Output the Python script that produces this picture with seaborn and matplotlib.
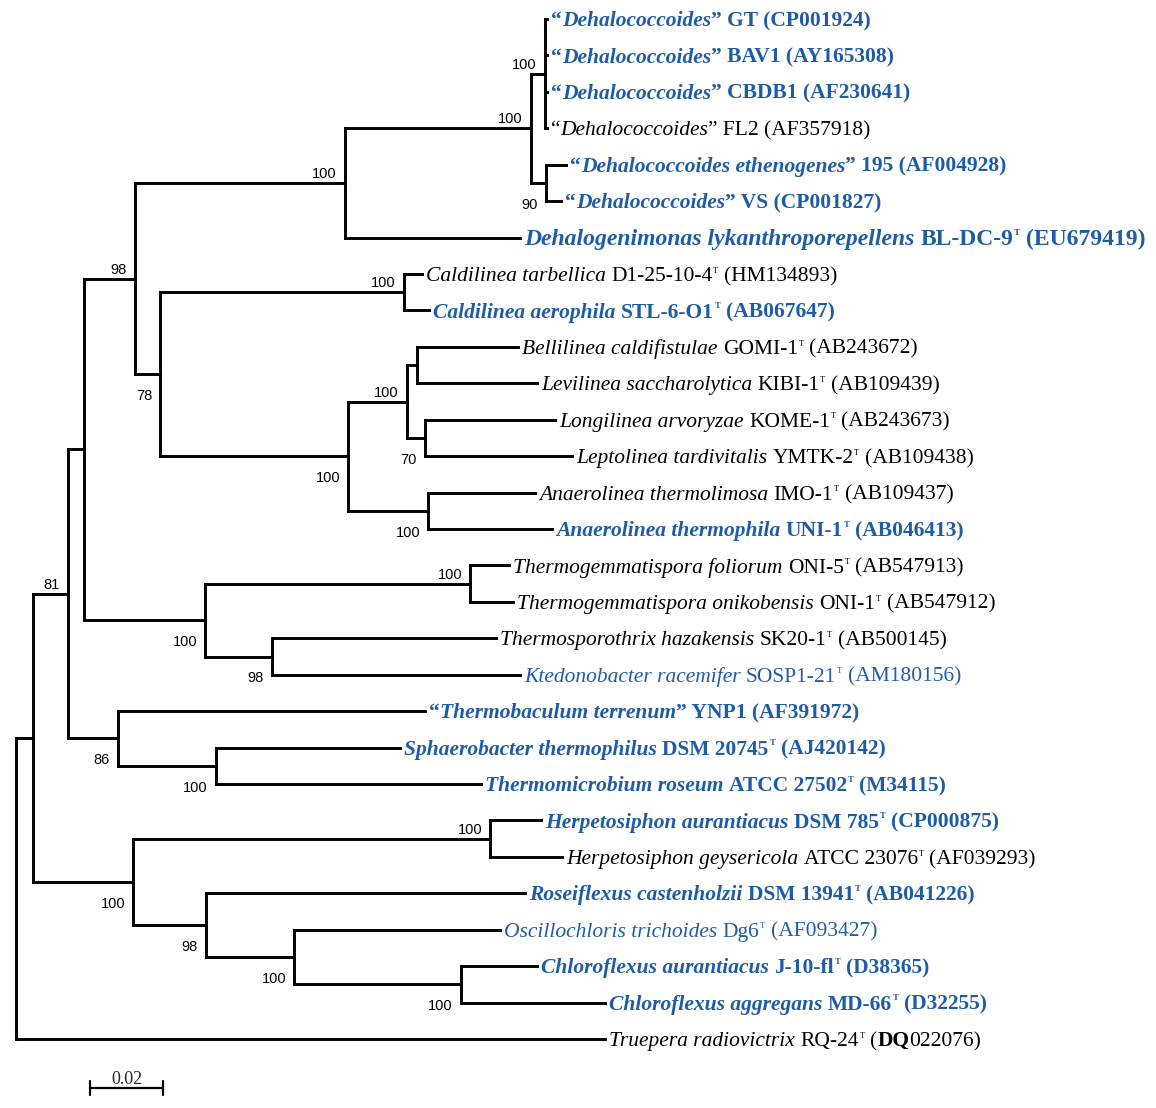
import re
import pandas as pd
import matplotlib
matplotlib.use("Agg")
import matplotlib.pyplot as plt
import seaborn as sns

# ---- leaves, top to bottom ----
leaf_labels = [
    "“*Dehalococcoides*” GT (CP001924)",
    "“*Dehalococcoides*” BAV1 (AY165308)",
    "“*Dehalococcoides*” CBDB1 (AF230641)",
    "“*Dehalococcoides*” FL2 (AF357918)",
    "“*Dehalococcoides ethenogenes*” 195 (AF004928)",
    "“*Dehalococcoides*” VS (CP001827)",
    "*Dehalogenimonas lykanthroporepellens* BL-DC-9^T (EU679419)",
    "*Caldilinea tarbellica* D1-25-10-4^T (HM134893)",
    "*Caldilinea aerophila* STL-6-O1^T (AB067647)",
    "*Bellilinea caldifistulae* GOMI-1^T (AB243672)",
    "*Levilinea saccharolytica* KIBI-1^T (AB109439)",
    "*Longilinea arvoryzae* KOME-1^T (AB243673)",
    "*Leptolinea tardivitalis* YMTK-2^T (AB109438)",
    "*Anaerolinea thermolimosa* IMO-1^T (AB109437)",
    "*Anaerolinea thermophila* UNI-1^T (AB046413)",
    "*Thermogemmatispora foliorum* ONI-5^T (AB547913)",
    "*Thermogemmatispora onikobensis* ONI-1^T (AB547912)",
    "*Thermosporothrix hazakensis* SK20-1^T (AB500145)",
    "*Ktedonobacter racemifer* SOSP1-21^T (AM180156)",
    "“*Thermobaculum terrenum*” YNP1 (AF391972)",
    "*Sphaerobacter thermophilus* DSM 20745^T (AJ420142)",
    "*Thermomicrobium roseum* ATCC 27502^T (M34115)",
    "*Herpetosiphon aurantiacus* DSM 785^T (CP000875)",
    "*Herpetosiphon geysericola* ATCC 23076^T (AF039293)",
    "*Roseiflexus castenholzii* DSM 13941^T (AB041226)",
    "*Oscillochloris trichoides* Dg6^T (AF093427)",
    "*Chloroflexus aurantiacus* J-10-fl^T (D38365)",
    "*Chloroflexus aggregans* MD-66^T (D32255)",
    "*Truepera radiovictrix* RQ-24^T (#DQ#022076)",
]
# b = highlighted (bold blue), l = plain blue, k = plain black
leaf_kind = ["b", "b", "b", "k", "b", "b", "b", "k", "b", "k", "k", "k", "k", "k", "b",
             "k", "k", "k", "l", "b", "b", "b", "b", "k", "b", "l", "b", "b", "k"]
leaf_parent = ["n7", "n7", "n7", "n7", "n8", "n8", "n5", "n10", "n10", "n13", "n13",
               "n14", "n14", "n15", "n15", "n17", "n17", "n18", "n18", "n19", "n20",
               "n20", "n22", "n22", "n23", "n24", "n25", "n25", "root"]
# distance from root (substitutions per site)
leaf_depth = [0.1455, 0.1455, 0.1455, 0.1455, 0.1507, 0.1493, 0.1381, 0.1112, 0.1132,
              0.1375, 0.1427, 0.1477, 0.1523, 0.1422, 0.1468, 0.1351, 0.1362, 0.1315,
              0.1381, 0.1121, 0.1052, 0.1274, 0.1438, 0.1496, 0.1395, 0.1326, 0.1427,
              0.1614, 0.1614]

# ---- internal nodes ----
node_names = ["root", "n1", "n2", "n3", "n4", "n5", "n6", "n7", "n8", "n9", "n10", "n11",
              "n12", "n13", "n14", "n15", "n16", "n17", "n18", "n19", "n20", "n21", "n22",
              "n23", "n24", "n25"]
node_parent = [None, "root", "n1", "n2", "n3", "n4", "n5", "n6", "n6", "n4", "n9", "n9",
               "n11", "n12", "n12", "n11", "n3", "n16", "n16", "n2", "n19", "n1", "n21",
               "n21", "n23", "n24"]
node_depth = [0.0, 0.0047, 0.0142, 0.0186, 0.0326, 0.0901, 0.1411, 0.1449, 0.1452, 0.0395,
              0.1063, 0.0910, 0.1071, 0.1099, 0.1121, 0.1129, 0.0518, 0.1244, 0.0701,
              0.0279, 0.0548, 0.0321, 0.1299, 0.0521, 0.0762, 0.1219]
node_support = [None, None, 81, None, 98, 100, 100, 100, 90, 78, 100, 100, 100, None, 70,
                100, 100, 100, 98, 86, 100, 100, 100, 98, 100, 100]
# where the bootstrap value sits: a = above branch, b = below
support_side = ["", "", "a", "", "a", "a", "a", "a", "b", "b", "a", "b", "a", "", "b", "b",
                "b", "a", "b", "b", "b", "b", "a", "b", "b", "b"]

scale_len = 0.02

# ---- layout ----
PX_PER_UNIT = 3650.0
ROW_PX = 36.43
W, H = 1156, 1108
BLUE = "#1f5ca6"
SERIF = "Liberation Serif"
SANS = "Liberation Sans"
FS = 15.5
FS_BIG = 17  # the Dehalogenimonas label is set a little larger

depth = dict(zip(node_names, node_depth))
parent = dict(zip(node_names, node_parent))
for i, (p, d) in enumerate(zip(leaf_parent, leaf_depth)):
    depth[f"L{i}"] = d
    parent[f"L{i}"] = p

children = {n: [] for n in node_names}
for n, p in parent.items():
    if p is not None:
        children[p].append(n)

ypos = {f"L{i}": float(i) for i in range(len(leaf_labels))}


def get_y(n):
    if n not in ypos:
        ys = [get_y(c) for c in children[n]]
        ypos[n] = (min(ys) + max(ys)) / 2
    return ypos[n]


for n in node_names:
    get_y(n)

# branch segments for seaborn
rows = []
seg = 0
for n, p in parent.items():
    if p is None:
        continue
    rows += [(seg, depth[p], ypos[n]), (seg, depth[n], ypos[n])]
    seg += 1
for n in node_names:
    ys = [ypos[c] for c in children[n]]
    rows += [(seg, depth[n], min(ys)), (seg, depth[n], max(ys))]
    seg += 1
seg_df = pd.DataFrame(rows, columns=["seg", "x", "y"])

sns.set_theme(style="white")
plt.rcParams["font.family"] = [SERIF, "DejaVu Serif"]

fig = plt.figure(figsize=(W / 100, H / 100), dpi=100)
ax = fig.add_axes([0, 0, 1, 1])
sns.lineplot(data=seg_df, x="x", y="y", units="seg", estimator=None, sort=False,
             color="black", lw=2.1, solid_capstyle="projecting", ax=ax, legend=False)

x0 = -16 / PX_PER_UNIT
ax.set_xlim(x0, x0 + W / PX_PER_UNIT)
ax.set_ylim((H - 19) / ROW_PX, -19 / ROW_PX)
ax.axis("off")


def draw_label(x, y, label, kind, fs):
    color = "black" if kind == "k" else BLUE
    weight = "bold" if kind == "b" else "normal"
    parts = [p for p in re.split(r"(\*[^*]+\*|#[^#]+#|\^T)", label) if p]
    base = prev = None
    space = False
    for p in parts:
        if p == "^T":
            prev = ax.annotate("T", xy=(1, 1), xycoords=prev, xytext=(0.6, 0.3),
                               textcoords="offset points", ha="left", va="top",
                               fontsize=fs * 0.4, color=color, weight=weight, family=SERIF)
            continue
        italic = p.startswith("*")
        bold = p.startswith("#")
        body = p.strip("*#")
        if body.startswith(" "):
            space = True
        txt = body.strip()
        if txt:
            style = "italic" if italic else "normal"
            w = "bold" if bold else weight
            gap = 0.25 * fs if space else 0.0
            if base is None:
                t = ax.annotate(txt, xy=(x, y), xycoords="data",
                                xytext=(2.9, -0.33 * fs), textcoords="offset points",
                                ha="left", va="baseline", fontsize=fs, color=color,
                                weight=w, style=style, family=SERIF)
                base = t
            else:
                t = ax.annotate(txt, xy=(1, 0), xycoords=(prev, base), xytext=(gap, 0),
                                textcoords="offset points", ha="left", va="bottom",
                                fontsize=fs, color=color, weight=w, style=style,
                                family=SERIF)
            prev = t
            space = False
        if body.endswith(" "):
            space = True


for i, lab in enumerate(leaf_labels):
    draw_label(leaf_depth[i], float(i), lab, leaf_kind[i], FS_BIG if i == 6 else FS)

# bootstrap values
for n, s, side in zip(node_names, node_support, support_side):
    if s is None:
        continue
    dy = 3.6 if side == "a" else -18.7
    ax.annotate(str(s), xy=(depth[n], ypos[n]), xytext=(-5.8, dy),
                textcoords="offset points", ha="right", va="baseline",
                fontsize=10.5, family=SANS, color="black")

# scale bar
sb_x = 74 / PX_PER_UNIT
sb_y = (1088 - 19) / ROW_PX
ax.plot([sb_x, sb_x + scale_len], [sb_y, sb_y], color="black", lw=1.6)
for xx in (sb_x, sb_x + scale_len):
    ax.plot([xx, xx], [sb_y - 0.2, sb_y + 0.2], color="black", lw=1.6)
ax.annotate(f"{scale_len:.2f}", xy=(sb_x + scale_len / 2, sb_y), xytext=(0, 2.9),
            textcoords="offset points", ha="center", va="baseline", fontsize=13,
            family=SERIF)

fig.savefig("out.png", dpi=100)
